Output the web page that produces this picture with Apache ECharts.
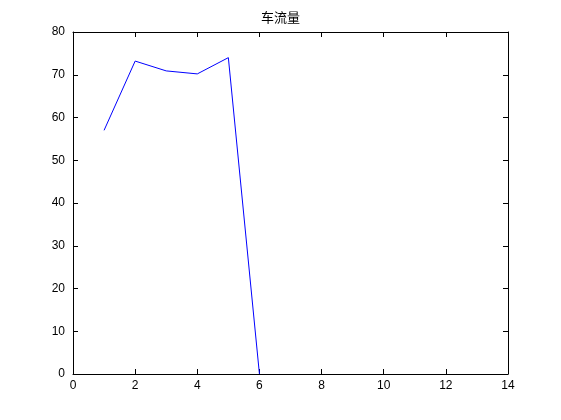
<!DOCTYPE html>
<html><head><meta charset="utf-8">
<script src="https://cdn.jsdelivr.net/npm/echarts@6/dist/echarts.min.js"></script>
<style>html,body{margin:0;padding:0;background:#fff}#c{width:561px;height:420px}</style>
</head><body><div id="c"></div>
<script>
const titleText = '车流量';
const xValues = [1, 2, 3, 4, 5, 6];
const flowValues = [57, 73.2, 70.9, 70.2, 74, 0];

const chart = echarts.init(document.getElementById('c'), null, {renderer: 'canvas'});
const axisCommon = {
  type: 'value',
  axisLine: {show: true, onZero: false, lineStyle: {color: '#000', width: 1}},
  axisTick: {show: true, inside: true, length: 5, lineStyle: {color: '#000'}},
  splitLine: {show: false}
};
const labelStyle = {color: '#000', fontFamily: 'Liberation Sans, Arial, sans-serif', fontSize: 12};
chart.setOption({
  animation: false,
  backgroundColor: '#fff',
  title: {text: titleText, left: 'center', top: 6,
    textStyle: {fontFamily: 'Noto Sans CJK SC', fontSize: 13, fontWeight: 'normal', color: '#000'}},
  grid: {left: 73, right: 53, top: 32, bottom: 46},
  xAxis: [
    Object.assign({}, axisCommon, {min: 0, max: 14, interval: 2, position: 'bottom',
      axisLabel: Object.assign({margin: 6}, labelStyle)}),
    Object.assign({}, axisCommon, {min: 0, max: 14, interval: 2, position: 'top',
      axisLabel: {show: false}})
  ],
  yAxis: [
    Object.assign({}, axisCommon, {min: 0, max: 80, interval: 10, position: 'left',
      axisLabel: Object.assign({margin: 8}, labelStyle)}),
    Object.assign({}, axisCommon, {min: 0, max: 80, interval: 10, position: 'right',
      axisLabel: {show: false}})
  ],
  series: [{
    type: 'line',
    data: xValues.map((x, i) => [x, flowValues[i]]),
    showSymbol: false,
    lineStyle: {color: '#0000ff', width: 1},
    itemStyle: {color: '#0000ff'}
  }]
});
</script></body></html>
